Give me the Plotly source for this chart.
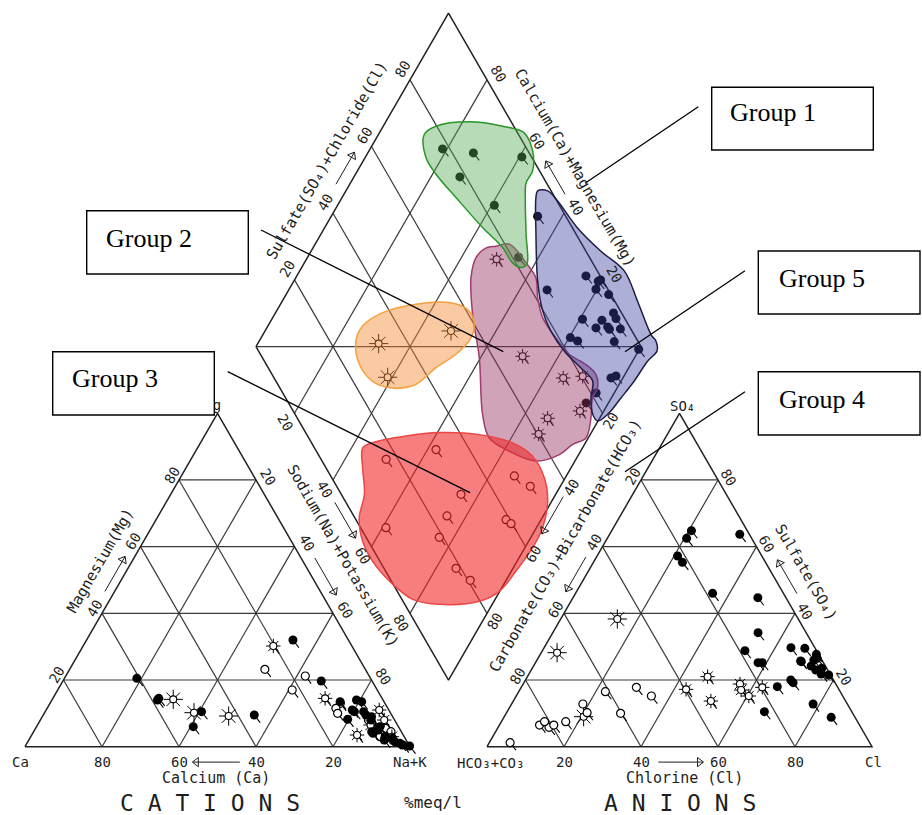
import math
import plotly.graph_objects as go

H = math.sqrt(3) / 2

# ---------------- data (% meq/l) ----------------
# Group 1 (green zone, filled symbols)
g1_mg = [20.5, 14.0, 10.5, 14.5, 6.0, 9.5]
g1_nak = [18.8, 27.4, 40.6, 27.5, 40.7, 54.8]
g1_so4 = [57.2, 64.8, 63.7, 55.3, 62.5, 46.0]
g1_cl = [20.9, 20.7, 33.8, 23.1, 20.6, 35.6]
# Group 2 (orange zone, star symbols)
g2_mg = [14.2, 9.2, 10.2]
g2_nak = [31.4, 48.3, 38.8]
g2_so4 = [28.2, 38.3, 9.0]
g2_cl = [4.1, 14.7, 20.6]
# Group 3 (red zone, open symbols)
g3_mg = [23.2, 21.2, 13.0, 7.0, 4.0, 17.0, 11.5, 10.0, 5.5, 4.5, 8.0, 3.0]
g3_nak = [50.7, 62.2, 75.4, 86.5, 92.2, 60.9, 75.0, 76.2, 90.9, 92.8, 85.2, 90.7]
g3_so4 = [6.5, 12.8, 10.2, 17.8, 15.2, 1.2, 7.5, 5.8, 16.5, 10.0, 7.5, 6.5]
g3_cl = [10.4, 18.5, 20.9, 29.9, 35.1, 5.4, 16.7, 13.2, 22.5, 29.7, 11.2, 14.1]
# Group 4 (purple zone, open rayed symbols)
g4_mg = [30.2, 14.5, 3.5, 8.0, 3.0, 11.0, 6.5]
g4_nak = [49.4, 70.7, 84.5, 89.3, 93.8, 86.5, 86.5]
g4_so4 = [15.2, 21.0, 18.8, 17.8, 17.0, 13.7, 17.2]
g4_cl = [60.4, 46.8, 56.3, 62.6, 57.5, 51.3, 43.1]
# Group 5 (blue zone, filled symbols)
g5_mg = [32.0, 19.7, 13.5, 14.0, 11.0, 8.2, 9.5, 13.5, 8.0, 4.5, 5.0, 9.0,
         4.0, 6.0, 3.0, 10.5, 10.5, 2.0, 0.2, 1.0, 0.5, 1.5, 2.5]
g5_nak = [53.6, 67.1, 75.1, 79.1, 79.5, 79.7, 83.8, 80.7, 85.9, 87.8, 89.3, 85.5,
          88.4, 89.2, 92.0, 80.3, 82.7, 92.3, 99.8, 96.9, 97.9, 95.3, 94.2]
g5_so4 = [44.7, 25.2, 24.2, 23.5, 21.5, 23.0, 27.7, 20.0, 29.7, 26.0, 21.8, 12.8,
          25.7, 25.5, 29.5, 25.2, 18.0, 8.8, 26.5, 34.2, 19.2, 28.8, 10.5]
g5_cl = [48.0, 58.9, 72.1, 75.2, 78.0, 73.9, 71.7, 68.9, 64.1, 71.9, 75.9, 78.3,
         68.6, 68.9, 67.8, 57.8, 66.4, 85.0, 72.5, 53.3, 69.9, 52.6, 66.8]

# zone outlines in the diamond: (Na+K %, SO4+Cl %)
zone1_nak = [11.9, 13.7, 21.7, 31.0, 37.6, 42.5, 45.5, 45.6, 48.1, 53.3, 58.0, 57.0, 54.1, 49.2, 41.0, 29.6, 20.9, 15.8]
zone1_an = [75.5, 79.8, 89.1, 97.1, 101.7, 101.2, 98.2, 94.7, 91.8, 87.0, 82.7, 80.7, 79.2, 78.9, 76.7, 74.3, 72.6, 72.5]
zone2_nak = [25.1, 24.6, 27.8, 35.2, 43.6, 49.4, 53.1, 54.5, 53.1, 49.9, 47.2, 41.7, 35.5, 29.5]
zone2_an = [26.8, 30.8, 38.0, 47.9, 56.8, 60.5, 60.3, 57.2, 50.8, 43.6, 35.9, 29.3, 25.1, 24.2]
zone3_nak = [42.9, 44.7, 52.4, 60.5, 71.2, 81.1, 88.3, 94.6, 98.9, 101.6, 102.0, 101.2, 99.9, 96.2, 86.3, 78.6, 69.8, 62.5, 56.9, 52.5, 50.3, 45.9]
zone3_an = [12.5, 15.9, 25.6, 34.7, 44.8, 52.2, 55.4, 55.2, 52.6, 47.3, 41.7, 33.9, 26.5, 19.8, 9.0, 2.8, -0.5, -1.9, -1.5, 1.1, 6.0, 9.5]
zone4_nak = [47.3, 50.5, 57.6, 62.4, 65.8, 70.1, 76.6, 82.5, 88.4, 92.5, 94.9, 95.1, 97.7, 99.4, 96.9, 95.0, 89.9, 81.5, 74.3, 69.0, 59.7, 51.4, 45.5, 43.8, 45.0]
zone4_an = [77.4, 81.2, 82.7, 83.0, 80.5, 78.8, 79.2, 80.2, 83.0, 84.1, 82.5, 79.7, 76.3, 72.0, 67.6, 62.6, 55.6, 50.1, 46.9, 48.7, 56.3, 61.1, 66.2, 70.5, 74.6]
zone5_nak = [49.8, 52.4, 56.5, 65.7, 75.3, 84.3, 92.3, 100.8, 103.1, 104.8, 103.9, 103.4, 102.5, 101.5, 99.9, 97.6, 94.7, 92.6, 87.6, 80.8, 74.3, 69.1, 63.3, 55.4, 50.4]
zone5_an = [96.5, 99.1, 100.2, 101.3, 103.9, 107.0, 105.9, 104.4, 104.7, 103.5, 99.5, 93.1, 87.1, 81.2, 77.6, 77.3, 79.3, 82.3, 81.2, 79.4, 78.9, 79.8, 83.0, 90.0, 95.0]

tick_values = [20, 40, 60, 80]
group_labels = ["Group 1", "Group 2", "Group 3", "Group 4", "Group 5"]

# ---------------- projections ----------------
def cation_xy(mg, nak):
    return [n + m / 2 for m, n in zip(mg, nak)], [H * m for m in mg]

def anion_xy(so4, cl):
    return [120 + c + s / 2 for s, c in zip(so4, cl)], [H * s for s in so4]

def diamond_xy(nak, an):
    return ([60 + 0.5 * (n + a) for n, a in zip(nak, an)],
            [120 * H + H * (a - n) for n, a in zip(nak, an)])

MONO = "DejaVu Sans Mono"
INK = "#1e1e1e"
fig = go.Figure()

# ---------------- frames and grids ----------------
CA, NK, MGV = (0.0, 0.0), (100.0, 0.0), (50.0, 100 * H)
HC, CLV, SOV = (120.0, 0.0), (220.0, 0.0), (170.0, 100 * H)
DL, DB, DR, DT = (60.0, 120 * H), (110.0, 20 * H), (160.0, 120 * H), (110.0, 220 * H)

gx, gy = [], []
def seg(p, q):
    gx.extend([p[0], q[0], None]); gy.extend([p[1], q[1], None])

for off in (0.0, 120.0):
    for k in tick_values:
        seg((off + k / 2, H * k), (off + 100 - k / 2, H * k))
        seg((off + 100 - k, 0), (off + (100 - k) / 2, H * (100 - k)))
        seg((off + k, 0), (off + k + (100 - k) / 2, H * (100 - k)))
for k in tick_values:
    a0 = diamond_xy([k, k], [0, 100]); seg((a0[0][0], a0[1][0]), (a0[0][1], a0[1][1]))
    b0 = diamond_xy([0, 100], [k, k]); seg((b0[0][0], b0[1][0]), (b0[0][1], b0[1][1]))
seg(DL, DR)
fig.add_trace(go.Scatter(x=gx, y=gy, mode="lines", line=dict(color="#3a3a3a", width=1.2),
                         hoverinfo="skip"))
ox, oy = [], []
for poly in ([CA, NK, MGV, CA], [HC, CLV, SOV, HC], [DL, DB, DR, DT, DL]):
    ox += [p[0] for p in poly] + [None]; oy += [p[1] for p in poly] + [None]
fig.add_trace(go.Scatter(x=ox, y=oy, mode="lines", line=dict(color="#222", width=1.5),
                         hoverinfo="skip"))

# ---------------- samples ----------------
groups = [
    (g1_mg, g1_nak, g1_so4, g1_cl, "filled"),
    (g2_mg, g2_nak, g2_so4, g2_cl, "star"),
    (g3_mg, g3_nak, g3_so4, g3_cl, "q"),
    (g4_mg, g4_nak, g4_so4, g4_cl, "qstar"),
    (g5_mg, g5_nak, g5_so4, g5_cl, "filled"),
]
TA = math.radians(-52)
TL = 2.5
for mg, nak, so4, cl, style in groups:
    an = [s + c for s, c in zip(so4, cl)]
    cx, cy = cation_xy(mg, nak)
    axx, ayy = anion_xy(so4, cl)
    dx, dy = diamond_xy(nak, an)
    xs, ys = cx + axx + dx, cy + ayy + dy
    if style != "star":
        tx, ty = [], []
        for x, y in zip(xs, ys):
            tx += [x, x + TL * math.cos(TA), None]; ty += [y, y + TL * math.sin(TA), None]
        fig.add_trace(go.Scatter(x=tx, y=ty, mode="lines", line=dict(color="black", width=1.1),
                                 hoverinfo="skip"))
    if style == "filled":
        fig.add_trace(go.Scatter(x=xs, y=ys, mode="markers",
                                 marker=dict(symbol="circle", size=9, color="black")))
    elif style == "q":
        fig.add_trace(go.Scatter(x=xs, y=ys, mode="markers",
                                 marker=dict(symbol="circle", size=8, color="white",
                                             line=dict(color="black", width=1.2))))
    else:
        big = 16 if style == "star" else 12
        fig.add_trace(go.Scatter(x=xs, y=ys, mode="markers",
                                 marker=dict(symbol="asterisk-open", size=big, color="black",
                                             line=dict(color="black", width=1.0))))
        fig.add_trace(go.Scatter(x=xs, y=ys, mode="markers",
                                 marker=dict(symbol="circle", size=7, color="white",
                                             line=dict(color="black", width=1.1))))

# ---------------- zones ----------------
zones = [
    (zone4_nak, zone4_an, "rgba(150,50,100,0.45)", "rgb(160,60,110)"),
    (zone5_nak, zone5_an, "rgba(60,65,160,0.42)", "rgb(30,30,70)"),
    (zone3_nak, zone3_an, "rgba(240,40,40,0.6)", "rgb(235,70,70)"),
    (zone1_nak, zone1_an, "rgba(80,170,80,0.42)", "rgb(40,150,40)"),
    (zone2_nak, zone2_an, "rgba(245,140,50,0.45)", "rgb(245,160,60)"),
]
for zn, za, fc, lc in zones:
    zx, zy = diamond_xy(zn + zn[:1], za + za[:1])
    fig.add_trace(go.Scatter(x=zx, y=zy, mode="lines", fill="toself", fillcolor=fc,
                             line=dict(color=lc, width=1.5, shape="spline", smoothing=1.0),
                             hoverinfo="skip"))

# ---------------- axis labels ----------------
EDGES = {
    "ca": (NK, CA, (0, -1), 4.0, 0.0, 0),
    "mg": (CA, MGV, (-H, 0.5), 2.3, 0.3, -60),
    "nak": (MGV, NK, (H, 0.5), 3.2, 0.86, 60),
    "dnak": (DL, DB, (-H, -0.5), 3.2, 1.0, 60),
    "dsc": (DL, DT, (-H, 0.5), 3.1, 1.5, -60),
    "dcm": (DR, DT, (H, 0.5), 3.4, -0.2, 60),
    "dhc": (DR, DB, (H, -0.5), 2.7, 0.65, -60),
    "hc": (SOV, HC, (-H, 0.5), 2.35, 0.1, -60),
    "so4": (CLV, SOV, (H, 0.5), 2.6, -0.7, 60),
    "cl": (HC, CLV, (0, -1), 4.0, 0.0, 0),
}

def epos(key, t, dn=None, da=None):
    p0, p1, n, dn0, da0, _ = EDGES[key]
    dn = dn0 if dn is None else dn
    da = da0 if da is None else da
    ex, ey = p1[0] - p0[0], p1[1] - p0[1]
    ln = math.hypot(ex, ey)
    return (p0[0] + ex * t / 100 + n[0] * dn + ex / ln * da,
            p0[1] + ey * t / 100 + n[1] * dn + ey / ln * da)

anns = []
def txt(x, y, s, size=13, ang=0, family=MONO, xanchor="center"):
    anns.append(dict(x=x, y=y, xref="x", yref="y", text=s, showarrow=False, textangle=ang,
                     font=dict(family=family, size=size, color=INK),
                     xanchor=xanchor, yanchor="middle"))

for key, spec in EDGES.items():
    for t in tick_values:
        x, y = epos(key, t)
        txt(x, y, str(t), 14, spec[5])

ARROWS = {"ca": (44.2, 56.4, 4.0), "mg": (45.3, 55.7, 2.2), "nak": (45.2, 56.2, 3.1),
          "dnak": (45.3, 55.9, 2.5), "dsc": (46.9, 56.4, 3.1), "dcm": (44.1, 54.0, 2.7),
          "dhc": (43.85, 54.9, 2.0), "hc": (44.5, 54.8, 2.4), "so4": (44.2, 54.2, 3.0),
          "cl": (44.5, 56.1, 4.0)}
axs, ays, hx, hy, hang = [], [], [], [], []
for key, (t0, t1, dn) in ARROWS.items():
    p = epos(key, t0, dn, 0)
    q = epos(key, t1, dn, 0)
    axs += [p[0], q[0], None]; ays += [p[1], q[1], None]
    ang = -math.degrees(math.atan2(q[1] - p[1], q[0] - p[0]))
    back = 0.9
    d = math.hypot(q[0] - p[0], q[1] - p[1])
    hx.append(q[0] - (q[0] - p[0]) / d * back); hy.append(q[1] - (q[1] - p[1]) / d * back)
    hang.append(ang)
fig.add_trace(go.Scatter(x=axs, y=ays, mode="lines", line=dict(color=INK, width=1.0),
                         hoverinfo="skip"))
fig.add_trace(go.Scatter(x=hx, y=hy, mode="markers",
                         marker=dict(symbol="triangle-right-open", size=8, angle=hang, color=INK,
                                     line=dict(color=INK, width=1.0)), hoverinfo="skip"))

TITLES = [("ca", 50.4, 8.1, "Calcium (Ca)"), ("mg", 51.5, 7.2, "Magnesium(Mg)"),
          ("nak", 48.4, 9.7, "Sodium(Na)+Potassium(K)"),
          ("dsc", 51.2, 8.2, "Sulfate(SO\u2084)+Chloride(Cl)"),
          ("dcm", 48.7, 8.4, "Calcium(Ca)+Magnesium(Mg)"),
          ("hc", 44.7, 8.5, "Carbonate(CO\u2083)+Bicarbonate(HCO\u2083)"),
          ("so4", 47.9, 7.8, "Sulfate(SO\u2084)"), ("cl", 51.4, 8.1, "Chlorine (Cl)")]
for key, t, dn, s in TITLES:
    x, y = epos(key, t, dn, 0)
    txt(x, y, s, 15, EDGES[key][5])

txt(-1.3, -4.0, "Ca", 14)
txt(100.0, -4.0, "Na+K", 14)
txt(120.8, -4.3, "HCO\u2083+CO\u2083", 14)
txt(220.3, -4.0, "Cl", 14)
txt(170.9, 88.4, "SO\u2084", 14)
txt(48.05, -14.6, "C A T I O N S", 23)
txt(106.0, -14.6, "%meq/l", 16)
txt(170.1, -14.6, "A N I O N S", 23)
# vertex label drawn as a trace so the Group 3 box can overlap it
fig.add_trace(go.Scatter(x=[48.8], y=[88.4], mode="text", text=["Mg"],
                         textfont=dict(family=MONO, size=14, color=INK), hoverinfo="skip"))

# ---------------- group call-out boxes ----------------
W, HH = 922.0, 815.0
def px(x, y):
    return x / W, 1 - y / HH

shapes = []
boxes = [(group_labels[0], 711.7, 87.3, 873.3, 150.0, 728.0, 113.0),
         (group_labels[1], 86.7, 210.7, 248.3, 274.0, 104.0, 239.0),
         (group_labels[2], 52.7, 351.7, 214.3, 415.0, 70.0, 378.0),
         (group_labels[3], 758.3, 371.7, 920.0, 435.0, 776.7, 399.0),
         (group_labels[4], 758.3, 251.0, 920.0, 314.0, 776.7, 278.0)]
for label, x0, y0, x1, y1, tx, ty in boxes:
    a0, b0 = px(x0, y0); a1, b1 = px(x1, y1)
    shapes.append(dict(type="rect", xref="paper", yref="paper", x0=a0, y0=b1, x1=a1, y1=b0,
                       line=dict(color="black", width=1.4), fillcolor="white", layer="above"))
    ta, tb = px(tx, ty)
    anns.append(dict(x=ta, y=tb, xref="paper", yref="paper", text=label, showarrow=False,
                     xanchor="left", yanchor="middle",
                     font=dict(family="Liberation Serif", size=26, color="black")))
leaders = [(698.3, 106.7, 585.0, 183.3), (261.0, 230.0, 503.3, 351.7),
           (227.7, 371.7, 470.0, 492.7), (745.0, 391.7, 625.0, 471.7),
           (745.0, 270.7, 625.0, 351.7)]
for x0, y0, x1, y1 in leaders:
    a0, b0 = px(x0, y0); a1, b1 = px(x1, y1)
    shapes.append(dict(type="line", xref="paper", yref="paper", x0=a0, y0=b0, x1=a1, y1=b1,
                       line=dict(color="black", width=1.3), layer="above"))

fig.update_layout(
    width=922, height=815, margin=dict(l=0, r=0, t=0, b=0),
    paper_bgcolor="white", plot_bgcolor="white", showlegend=False,
    xaxis=dict(range=[-25 / 3.85, (922 - 25) / 3.85], visible=False, fixedrange=True),
    yaxis=dict(range=[(746.7 - 815) / 3.85, 746.7 / 3.85], visible=False, fixedrange=True),
    shapes=shapes, annotations=anns,
)
fig.write_html("out.html", config={"displayModeBar": False},
               post_script="document.body.style.margin='0';")
